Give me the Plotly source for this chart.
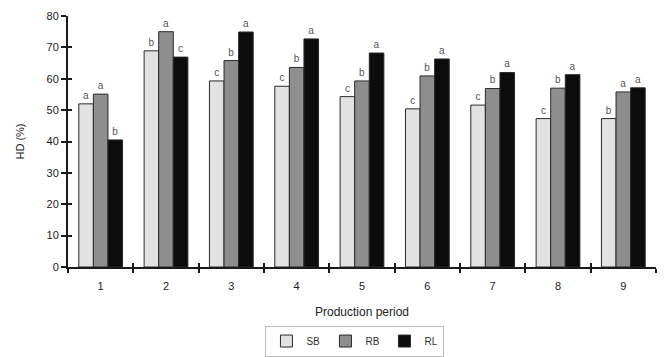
import plotly.graph_objects as go

# Production periods and HD (%) for each housing system
periods = ["1", "2", "3", "4", "5", "6", "7", "8", "9"]
sb = [52.0, 68.9, 59.3, 57.6, 54.3, 50.4, 51.6, 47.3, 47.3]
rb = [55.1, 75.0, 65.8, 63.6, 59.3, 60.9, 56.9, 57.0, 55.8]
rl = [40.5, 66.9, 74.9, 72.7, 68.2, 66.3, 62.0, 61.3, 57.1]

# Significance letters above each bar
sb_sig = ["a", "b", "c", "c", "c", "c", "c", "c", "b"]
rb_sig = ["a", "a", "b", "b", "b", "b", "b", "b", "a"]
rl_sig = ["b", "c", "a", "a", "a", "a", "a", "a", "a"]

y_ticks = [0, 10, 20, 30, 40, 50, 60, 70, 80]

FONT = "Liberation Sans, Arial, sans-serif"

series = [
    ("SB", sb, sb_sig, "#e2e2e2"),
    ("RB", rb, rb_sig, "#8e8e8e"),
    ("RL", rl, rl_sig, "#0c0c0c"),
]

fig = go.Figure()
for name, vals, sig, color in series:
    fig.add_trace(go.Bar(
        name=name,
        x=periods,
        y=vals,
        text=sig,
        textposition="outside",
        cliponaxis=False,
        textfont=dict(family=FONT, size=10, color="#555555"),
        marker=dict(color=color, line=dict(color="#2a2a2a", width=1)),
    ))

# helper trace so the overlay axes (crossing tick marks) are drawn
fig.add_trace(go.Scatter(x=[0.5], y=[0], xaxis="x2", yaxis="y2",
                         mode="markers", marker=dict(opacity=0),
                         showlegend=False, hoverinfo="skip"))

fig.update_layout(
    width=666,
    height=357,
    margin=dict(l=68, r=10, t=16, b=90, autoexpand=False),
    paper_bgcolor="white",
    plot_bgcolor="white",
    barmode="group",
    bargap=0.33,
    bargroupgap=0.0,
    font=dict(family=FONT, color="#222222"),
    xaxis=dict(
        type="category",
        showline=True, linecolor="#1a1a1a", linewidth=2,
        ticks="outside", tickson="boundaries", ticklen=4,
        tickcolor="#1a1a1a", tickwidth=2,
        ticklabelstandoff=8,
        tickfont=dict(size=11, color="#222222"),
        showgrid=False, zeroline=False,
        title=dict(text="Production period", standoff=16,
                   font=dict(size=12, color="#222222")),
    ),
    yaxis=dict(
        range=[0, 80],
        tickvals=y_ticks,
        showline=True, linecolor="#1a1a1a", linewidth=2,
        ticks="outside", ticklen=5, tickcolor="#1a1a1a", tickwidth=2,
        tickfont=dict(size=11, color="#222222"),
        showgrid=False, zeroline=False,
        title=dict(text="HD (%)", standoff=20,
                   font=dict(size=11, color="#222222")),
    ),
    xaxis2=dict(
        overlaying="x", range=[0.5, 9.5],
        tickvals=[0.5 + i for i in range(10)],
        ticks="inside", ticklen=4, tickcolor="#1a1a1a", tickwidth=2,
        showticklabels=False, showgrid=False, zeroline=False, showline=False,
    ),
    yaxis2=dict(
        overlaying="y", range=[0, 80],
        tickvals=y_ticks,
        ticks="inside", ticklen=4, tickcolor="#1a1a1a", tickwidth=2,
        showticklabels=False, showgrid=False, zeroline=False, showline=False,
    ),
    legend=dict(
        orientation="h",
        x=0.488, xanchor="center",
        y=-0.295, yanchor="middle",
        bordercolor="#bbbbbb", borderwidth=1,
        font=dict(size=10, color="#333333"),
        itemwidth=30,
        entrywidth=14,
        tracegroupgap=0,
    ),
)

fig.write_html("out.html")
